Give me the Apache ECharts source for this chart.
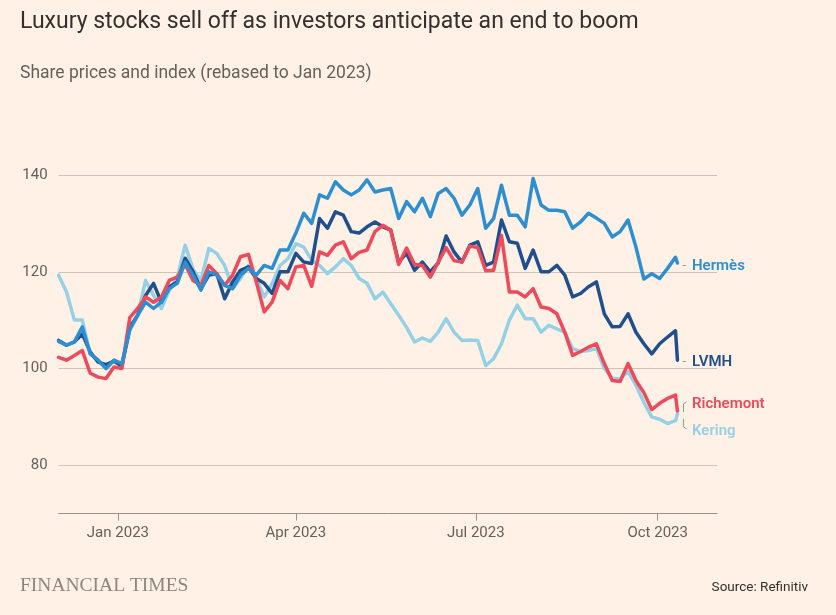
<!DOCTYPE html>
<html><head><meta charset="utf-8">
<script src="https://cdn.jsdelivr.net/npm/echarts@6/dist/echarts.min.js"></script>
<style>html,body{margin:0;padding:0;background:#fff1e5}#c{width:836px;height:615px}</style>
</head><body><div id="c"></div>
<script>
const dates = [
'2022-12-02','2022-12-06','2022-12-10','2022-12-14','2022-12-18','2022-12-22','2022-12-26','2022-12-30',
'2023-01-03','2023-01-07','2023-01-11','2023-01-15','2023-01-19','2023-01-23','2023-01-27','2023-01-31',
'2023-02-04','2023-02-08','2023-02-12','2023-02-16','2023-02-20','2023-02-24','2023-02-28','2023-03-04',
'2023-03-08','2023-03-12','2023-03-16','2023-03-20','2023-03-24','2023-03-28','2023-04-01','2023-04-05',
'2023-04-09','2023-04-13','2023-04-17','2023-04-21','2023-04-25','2023-04-29','2023-05-03','2023-05-07',
'2023-05-11','2023-05-15','2023-05-19','2023-05-23','2023-05-27','2023-05-31','2023-06-04','2023-06-08',
'2023-06-12','2023-06-16','2023-06-20','2023-06-24','2023-06-28','2023-07-02','2023-07-06','2023-07-10',
'2023-07-14','2023-07-18','2023-07-22','2023-07-26','2023-07-30','2023-08-03','2023-08-07','2023-08-11',
'2023-08-15','2023-08-19','2023-08-23','2023-08-27','2023-08-31','2023-09-04','2023-09-08','2023-09-12',
'2023-09-16','2023-09-20','2023-09-24','2023-09-28','2023-10-02','2023-10-06','2023-10-10','2023-10-11'
];
const hermes = [
105.6,104.8,105.5,108.6,103.0,101.7,100.0,101.7,
101.0,108.0,111.0,113.7,112.4,113.7,116.5,117.6,
122.0,119.3,116.2,120.0,119.3,117.2,116.5,119.3,
120.7,119.3,121.3,120.7,124.5,124.5,128.0,132.1,
130.0,135.9,135.2,138.6,136.9,135.9,136.9,139.0,
136.5,136.9,137.2,131.0,134.5,132.4,135.2,131.4,
136.2,137.2,135.2,131.7,133.8,137.2,129.0,131.0,
137.9,131.7,131.7,129.3,139.3,133.8,132.7,132.7,
132.4,129.0,130.3,132.1,131.1,130.0,127.2,128.3,
130.7,125.1,118.5,119.6,118.6,120.7,123.0,121.8
];
const lvmh = [
105.8,104.8,105.5,107.1,103.4,101.3,100.8,101.5,
100.5,108.5,111.0,115.1,117.6,113.7,116.9,117.9,
122.8,120.0,116.5,119.3,119.6,114.4,117.9,120.3,
121.0,118.6,117.6,115.5,120.0,120.0,123.8,122.0,
121.7,131.0,129.0,132.4,131.7,128.3,128.0,129.3,
130.3,129.3,128.6,122.0,123.8,120.3,122.0,120.0,
121.8,127.4,124.1,122.0,125.5,126.2,121.3,122.0,
130.7,126.2,125.9,120.7,124.5,120.0,120.0,121.3,
119.3,114.8,115.5,116.9,117.9,111.3,108.6,108.7,
111.3,107.5,105.1,103.0,105.1,106.5,107.8,101.7
];
const richemont = [
102.3,101.7,102.7,103.7,99.0,98.2,97.9,100.3,
100.0,110.5,112.4,114.8,113.7,114.8,118.2,118.9,
121.5,118.2,117.2,121.3,119.6,117.2,119.3,123.1,
123.6,117.9,111.7,113.7,118.2,116.5,121.0,121.3,
117.0,124.1,123.4,125.5,126.2,122.7,124.0,124.5,
128.3,129.6,128.6,121.5,124.9,121.5,121.3,118.9,
122.0,125.0,122.3,122.0,125.3,125.0,120.2,120.3,
127.5,115.8,115.8,114.8,116.5,112.7,112.4,111.3,
107.5,102.7,103.5,104.4,105.1,101.0,97.5,97.3,
101.0,97.5,95.0,91.5,92.8,93.8,94.5,91.2
];
const kering = [
119.3,115.8,110.0,110.0,103.0,101.7,100.0,101.7,
100.5,108.0,111.0,118.2,115.1,112.4,116.2,118.9,
125.5,120.5,118.2,124.8,123.8,121.3,116.5,118.6,
121.3,118.6,114.8,117.6,121.3,122.7,125.8,125.1,
122.4,121.3,119.6,121.0,122.7,121.3,118.6,117.6,
114.4,115.8,113.4,111.0,108.5,105.5,106.3,105.6,
107.5,110.3,107.5,105.8,105.9,105.8,100.6,102.0,
105.1,110.0,113.1,110.3,110.3,107.5,108.9,108.2,
107.5,104.1,103.5,103.7,104.1,100.0,98.0,97.8,
99.4,96.5,93.0,90.0,89.5,88.6,89.2,90.6
];
const xTickDates = ['2023-01-01','2023-04-01','2023-07-01','2023-10-01'];
const xRange = ['2022-12-02','2023-10-31'];
const monthNames = ['Jan','Feb','Mar','Apr','May','Jun','Jul','Aug','Sep','Oct','Nov','Dec'];
const yTickLabels = [80,100,120,140];

function ts(s){const p=s.split('-').map(Number);return Date.UTC(p[0],p[1]-1,p[2]);}
const FONT = 'Roboto';
const chart = echarts.init(document.getElementById('c'), null, {renderer:'canvas'});

function mk(name, vals, color, z, offY, dashColor){
  return {
    name, type:'line', z, showSymbol:false, symbol:'none', animation:false,
    data: dates.map((d,i)=>[ts(d), vals[i]]),
    lineStyle:{width:3.5, color, join:'round', cap:'round'},
    itemStyle:{color},
    emphasis:{disabled:true},
    endLabel:{
      show:true, distance:5, offset:[0,offY],
      formatter:'{d|-}  {n|'+name+'}',
      rich:{
        d:{color:dashColor, fontSize:13, fontFamily:FONT},
        n:{color, fontSize:15, fontWeight:600, fontFamily:FONT}
      }
    }
  };
}

const option = {
  backgroundColor:'#fff1e5',
  animation:false,
  textStyle:{fontFamily:FONT},
  title:[
    {text:'Luxury stocks sell off as investors anticipate an end to boom', left:20, top:7, padding:0,
     textStyle:{fontSize:23, fontWeight:'normal', color:'#33302e', fontFamily:FONT, lineHeight:30}},
    {text:'Share prices and index (rebased to Jan 2023)', left:20, top:63, padding:0,
     textStyle:{fontSize:17.5, fontWeight:'normal', color:'#66605c', fontFamily:FONT, lineHeight:22}},
    {text:'FINANCIAL TIMES', left:20, top:576, padding:0,
     textStyle:{fontSize:19.5, fontWeight:'normal', color:'#8f857c', fontFamily:'Liberation Serif', lineHeight:20}},
    {text:'Source: Refinitiv', right:28, top:579, padding:0,
     textStyle:{fontSize:13.5, fontWeight:'normal', color:'#33302e', fontFamily:FONT, lineHeight:18}}
  ],
  grid:{left:58.6, right:119, top:126.7, bottom:101.5, containLabel:false},
  xAxis:{
    type:'value', min:ts(xRange[0]), max:ts(xRange[1]),
    axisLine:{show:true, lineStyle:{color:'#9b928a', width:1}},
    axisTick:{show:true, length:7, lineStyle:{color:'#9b928a'}, customValues: xTickDates.map(ts)},
    axisLabel:{color:'#66605c', fontSize:15, margin:12, fontFamily:FONT,
      customValues: xTickDates.map(ts),
      formatter:function(v){const d=new Date(v);return monthNames[d.getUTCMonth()]+' '+d.getUTCFullYear();}},
    splitLine:{show:false}
  },
  yAxis:{
    type:'value', min:70, max:150, interval:10,
    axisLine:{show:false}, axisTick:{show:false},
    axisLabel:{color:'#66605c', fontSize:15, margin:11, fontFamily:FONT,
      formatter:function(v){return yTickLabels.indexOf(v)>=0 ? String(v) : '';}},
    splitLine:{show:true, lineStyle:{color:['rgba(0,0,0,0)','#cfc3b8'], width:1}}
  },
  series:[
    mk('Kering', kering, '#94d1e6', 1, 17, 'rgba(0,0,0,0)'),
    mk('LVMH', lvmh, '#1f4f8d', 2, 2, '#9b928a'),
    mk('Richemont', richemont, '#ee4a5b', 3, -7, 'rgba(0,0,0,0)'),
    mk('Hermès', hermes, '#2b8fd1', 4, 3, '#9b928a')
  ]
};
chart.setOption(option);

const n = dates.length - 1;
const pr = chart.convertToPixel({gridIndex:0}, [ts(dates[n]), richemont[n]]);
const pk = chart.convertToPixel({gridIndex:0}, [ts(dates[n]), kering[n]]);
const bx = pr[0] + 6;
chart.setOption({graphic:[
  {type:'polyline', silent:true, shape:{points:[[bx, pr[1]+1],[bx, pr[1]-7],[bx+3, pr[1]-9]]},
   style:{stroke:'#9b928a', lineWidth:1, fill:null}},
  {type:'polyline', silent:true, shape:{points:[[bx, pk[1]+5],[bx, pk[1]+13],[bx+3, pk[1]+15]]},
   style:{stroke:'#9b928a', lineWidth:1, fill:null}}
]});
</script>
</body></html>
